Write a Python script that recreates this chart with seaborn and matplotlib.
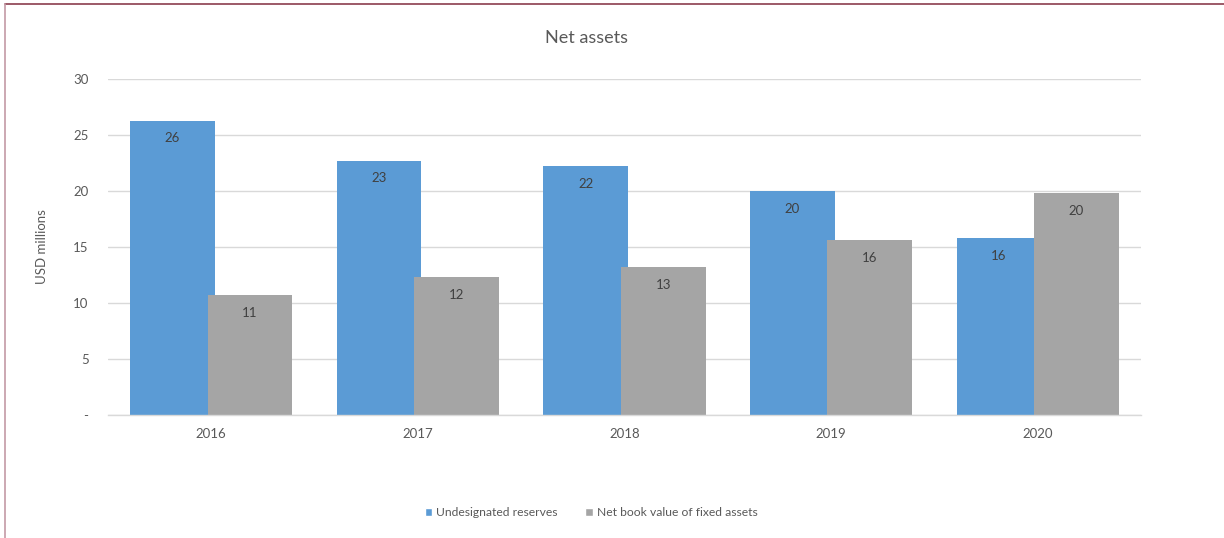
import matplotlib
matplotlib.use("Agg")
import matplotlib.pyplot as plt
from matplotlib.lines import Line2D
import seaborn as sns
import pandas as pd

years = ["2016", "2017", "2018", "2019", "2020"]
series_names = ["Undesignated reserves", "Net book value of fixed assets"]
undesignated = [26.3, 22.7, 22.2, 20.0, 15.8]
fixed_assets = [10.7, 12.3, 13.2, 15.6, 19.8]
y_ticks = [0, 5, 10, 15, 20, 25, 30]
y_tick_labels = ["-", "5", "10", "15", "20", "25", "30"]

palette = {series_names[0]: "#5B9BD5", series_names[1]: "#A5A5A5"}
text_color = "#595959"

df = pd.DataFrame({
    "year": years * 2,
    "series": [series_names[0]] * len(years) + [series_names[1]] * len(years),
    "value": undesignated + fixed_assets,
})

sns.set_theme(style="white")
plt.rcParams["font.family"] = ["Lato", "DejaVu Sans"]

fig = plt.figure(figsize=(12.24, 5.38), dpi=100)
ax = fig.add_axes([0.0882, 0.2286, 0.8440, 0.6244])

sns.barplot(data=df, x="year", y="value", hue="series", palette=palette,
            width=0.75, saturation=1, ax=ax, legend=True)

# widen each bar slightly so the second series overlaps the first
bar_w = 0.41
for patch in ax.patches:
    if patch.get_height() == 0 and patch.get_width() == 0:
        continue
    cx = patch.get_x() + patch.get_width() / 2
    patch.set_width(bar_w)
    patch.set_x(cx - bar_w / 2)
    patch.set_linewidth(0)

for cont in ax.containers:
    ax.bar_label(cont, fmt="%.0f", label_type="edge", padding=-17,
                 fontsize=9.5, color="#404040")

ax.set_xlim(-0.5, 4.5)
ax.set_ylim(0, 30)
ax.set_yticks(y_ticks)
ax.set_yticklabels(y_tick_labels)
ax.yaxis.grid(True, color="#D9D9D9", linewidth=1)
ax.set_axisbelow(True)
for side in ["top", "right", "left"]:
    ax.spines[side].set_visible(False)
ax.spines["bottom"].set_color("#D9D9D9")
ax.spines["bottom"].set_linewidth(1)
ax.tick_params(axis="both", length=0, labelsize=9.5, labelcolor=text_color)
ax.tick_params(axis="x", pad=9)
ax.tick_params(axis="y", pad=14)

ax.set_xlabel("")
ax.set_ylabel("USD millions", fontsize=9.5, color=text_color)
ax.yaxis.set_label_coords(-0.058, 0.5)
ax.set_title("Net assets", fontsize=13, color=text_color, pad=26, x=0.463)

handles, labels = ax.get_legend_handles_labels()
ax.get_legend().remove()
fig.legend(handles, labels, loc="center", bbox_to_anchor=(591 / 1224, 1 - 513 / 538),
           ncol=2, frameon=False, fontsize=8.7, labelcolor=text_color,
           handlelength=0.65, handleheight=0.65, handletextpad=0.3,
           columnspacing=2.3)

# outer frame lines
fig.add_artist(Line2D([5 / 1224, 1.0], [1 - 4 / 538, 1 - 4 / 538],
                      transform=fig.transFigure, color="#8B3D4E", linewidth=1.2))
fig.add_artist(Line2D([5 / 1224, 5 / 1224], [0.0, 1 - 4 / 538],
                      transform=fig.transFigure, color="#C49AA6", linewidth=1.2))

fig.savefig("out.png", dpi=100)
